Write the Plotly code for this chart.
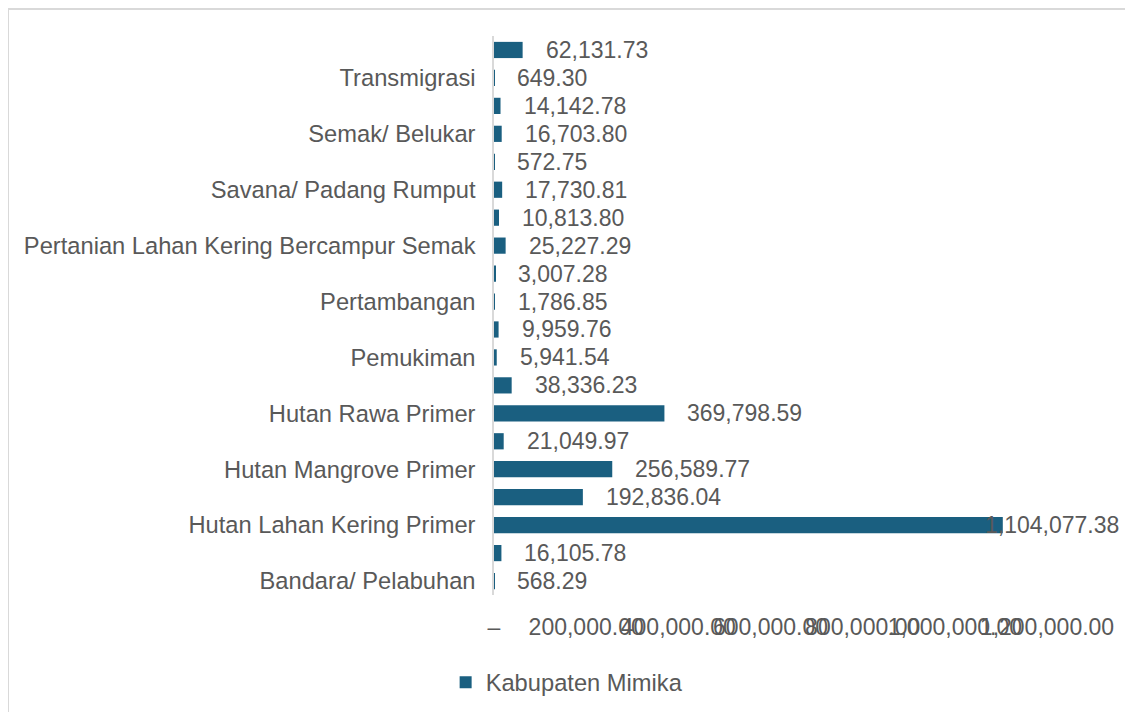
import plotly.graph_objects as go

# Bottom-to-top order of bars
bar_labels = [
    "Bandara/ Pelabuhan", "",
    "Hutan Lahan Kering Primer", "",
    "Hutan Mangrove Primer", "",
    "Hutan Rawa Primer", "",
    "Pemukiman", "",
    "Pertambangan", "",
    "Pertanian Lahan Kering Bercampur Semak", "",
    "Savana/ Padang Rumput", "",
    "Semak/ Belukar", "",
    "Transmigrasi", "",
]
values = [
    568.29, 16105.78,
    1104077.38, 192836.04,
    256589.77, 21049.97,
    369798.59, 38336.23,
    5941.54, 9959.76,
    1786.85, 3007.28,
    25227.29, 10813.80,
    17730.81, 572.75,
    16703.80, 14142.78,
    649.30, 62131.73,
]
series_name = "Kabupaten Mimika"
x_tickvals = [0, 200000, 400000, 600000, 800000, 1000000, 1200000]
x_ticktext = ["–", "200,000.00", "400,000.00", "600,000.00", "800,000.00",
              "1,000,000.00", "1,200,000.00"]

positions = list(range(len(values)))
label_pos = [p for p, l in zip(positions, bar_labels) if l]
label_txt = [l for l in bar_labels if l]

FONT = "Liberation Sans, Arial, sans-serif"
FS_NUM = 23
FS_LBL = 23.7
GRAY = "#595959"
BAR = "#1a5f80"

fig = go.Figure()
fig.add_trace(go.Bar(
    x=values, y=positions, orientation="h", name=series_name,
    marker=dict(color=BAR, line=dict(width=0)),
    width=0.58,
))

vmax = max(values)
for p, v in zip(positions, values):
    fig.add_annotation(
        x=v, y=p, xref="x", yref="y",
        text=f"{v:,.2f}", showarrow=False,
        xanchor="left", yanchor="middle",
        xshift=(-20 if v == vmax else 21),
        font=dict(family=FONT, size=FS_NUM, color=GRAY),
    )

# layout in figure pixels (page is offset by the 8px body margin)
L, R, T, B = 486, 94, 28, 125
W, H = 1133, 712
pw, ph = W - L - R, H - T - B
def px_x(px): return (px - L) / pw
def px_y(py): return (H - B - py) / ph
fig.add_shape(type="rect", xref="paper", yref="paper",
              x0=px_x(0), x1=px_x(1123), y0=px_y(730), y1=px_y(1),
              line=dict(color="#d9d9d9", width=2), layer="below")

fig.update_layout(
    width=W, height=H,
    margin=dict(l=L, r=R, t=T, b=B, autoexpand=False),
    paper_bgcolor="white", plot_bgcolor="white",
    font=dict(family=FONT, size=FS_LBL, color=GRAY),
    showlegend=True,
    legend=dict(orientation="h", xref="container", yref="container",
                x=0.4935, y=0.053, xanchor="center", yanchor="middle",
                font=dict(family=FONT, size=FS_LBL, color=GRAY)),
    xaxis=dict(range=[0, 1200000], tickvals=x_tickvals, ticktext=x_ticktext,
               showgrid=False, zeroline=False, showline=False,
               ticks="", ticklabelstandoff=16, tickangle=0, automargin=False,
               tickfont=dict(family=FONT, size=FS_NUM, color=GRAY)),
    yaxis=dict(range=[-0.5, len(values) - 0.5], tickvals=label_pos, ticktext=label_txt,
               showgrid=False, zeroline=False, showline=True, automargin=False,
               linecolor="#d9d9d9", linewidth=1.5,
               ticks="", ticklabelstandoff=12,
               tickfont=dict(family=FONT, size=FS_LBL, color=GRAY)),
)

fig.write_html("out.html")
